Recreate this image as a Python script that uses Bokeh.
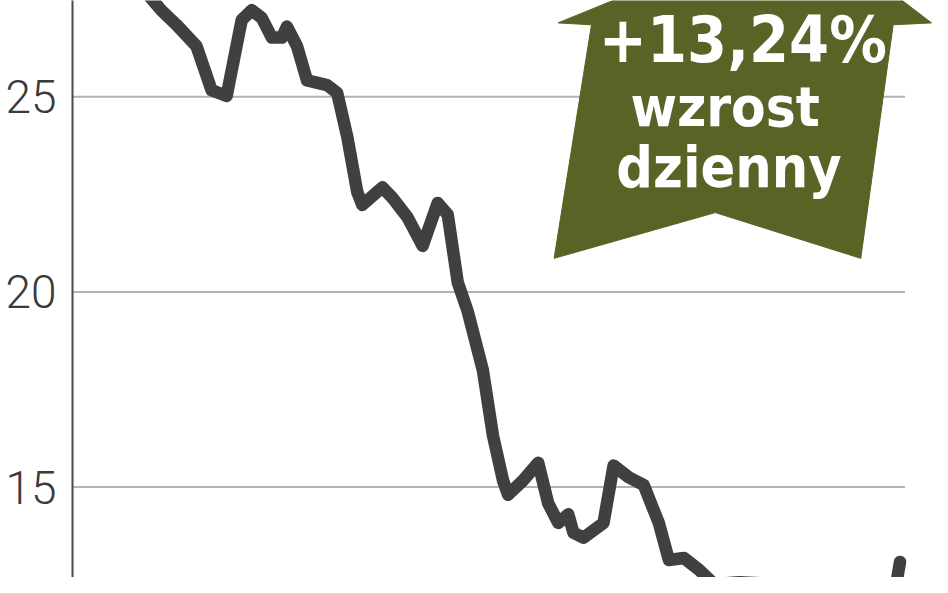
from bokeh.plotting import figure
from bokeh.models import Range1d, FixedTicker, Label
from bokeh.embed import file_html
from bokeh.resources import INLINE

# ---- data (day offset, closing price) ----
days = [0, 3, 6, 10, 12, 13, 16, 19, 21, 23, 25, 27, 28, 30, 32, 36, 38, 40, 42, 43,
        47, 49, 52, 55, 58, 60, 62, 64, 67, 69, 71, 72, 75, 78, 80, 82, 84, 85, 87, 91,
        93, 96, 99, 102, 104, 107, 110, 113, 118, 126, 129, 133, 137, 141, 145, 148, 150]
prices = [27.67, 27.22, 26.85, 26.30, 25.55, 25.17, 25.02, 26.97, 27.22, 27.02,
          26.52, 26.52, 26.80, 26.30, 25.42, 25.30, 25.10, 23.98, 22.56, 22.23,
          22.68, 22.41, 21.91, 21.18, 22.28, 21.98, 20.24, 19.49, 17.99, 16.32,
          15.17, 14.80, 15.17, 15.62, 14.58, 14.08, 14.30, 13.83, 13.70, 14.08,
          15.55, 15.25, 15.05, 14.08, 13.13, 13.18, 12.88, 12.51, 12.56, 12.51,
          12.01, 11.76, 11.88, 11.51, 11.71, 11.56, 13.08]
y_ticks = [15, 20, 25]
y_tick_labels = {15: "15", 20: "20", 25: "25"}
change_text = "+13,24%"
caption_lines = ["wzrost", "dzienny"]

# ---- layout helpers (reference-picture pixel -> data) ----
def dx(px):
    return (px - 148) / 5.113

def dy(py):
    return 25 - (py - 99) / 40.1

p = figure(width=932, height=577, output_backend="svg", toolbar_location=None,
           x_range=Range1d(dx(73), dx(948)), y_range=Range1d(dy(593), dy(0)),
           min_border_left=72, min_border_right=0, min_border_top=0, min_border_bottom=0,
           background_fill_color="white", border_fill_color="white")
p.outline_line_color = None
p.xaxis.visible = False
p.xgrid.visible = False
p.ygrid.visible = False

ax = p.yaxis[0]
ax.ticker = FixedTicker(ticks=y_ticks)
ax.major_label_overrides = y_tick_labels
ax.major_tick_line_color = None
ax.minor_tick_line_color = None
ax.major_tick_out = 0
ax.major_tick_in = 0
ax.axis_line_color = "#4a4a4a"
ax.axis_line_width = 2
ax.major_label_standoff = 16
ax.major_label_text_font = "Roboto Light"
ax.major_label_text_font_size = "46px"
ax.major_label_text_color = "#3a3a3a"

# horizontal grid lines ending before the right edge
p.segment(x0=[dx(73)] * len(y_ticks), y0=y_ticks, x1=[dx(920)] * len(y_ticks), y1=y_ticks,
          line_color="#b3b3b3", line_width=2)

# price line
p.line(days, prices, line_color="#404040", line_width=12.5,
       line_join="round", line_cap="round")

# olive arrow badge
arrow_px = [(815, -79), (947, 23), (908, 25), (875, 265), (727, 218), (563, 265), (601, 25), (567, 23)]
p.patch([dx(a) for a, b in arrow_px], [dy(b) for a, b in arrow_px],
        fill_color="#5a6226", line_color="#5a6226", line_width=1)

font = "DejaVu Sans Condensed"
p.add_layout(Label(x=dx(755), y=dy(40.5), text=change_text, text_align="center",
                   text_baseline="alphabetic", text_font=font, text_font_style="bold",
                   text_font_size="64px", text_color="white"))
p.add_layout(Label(x=dx(737), y=dy(108.7), text=caption_lines[0], text_align="center",
                   text_baseline="alphabetic", text_font=font, text_font_style="bold",
                   text_font_size="56px", text_color="white"))
p.add_layout(Label(x=dx(741), y=dy(171.3), text=caption_lines[1], text_align="center",
                   text_baseline="alphabetic", text_font=font, text_font_style="bold",
                   text_font_size="57px", text_color="white"))

open("out.html", "w").write(file_html(p, INLINE))
